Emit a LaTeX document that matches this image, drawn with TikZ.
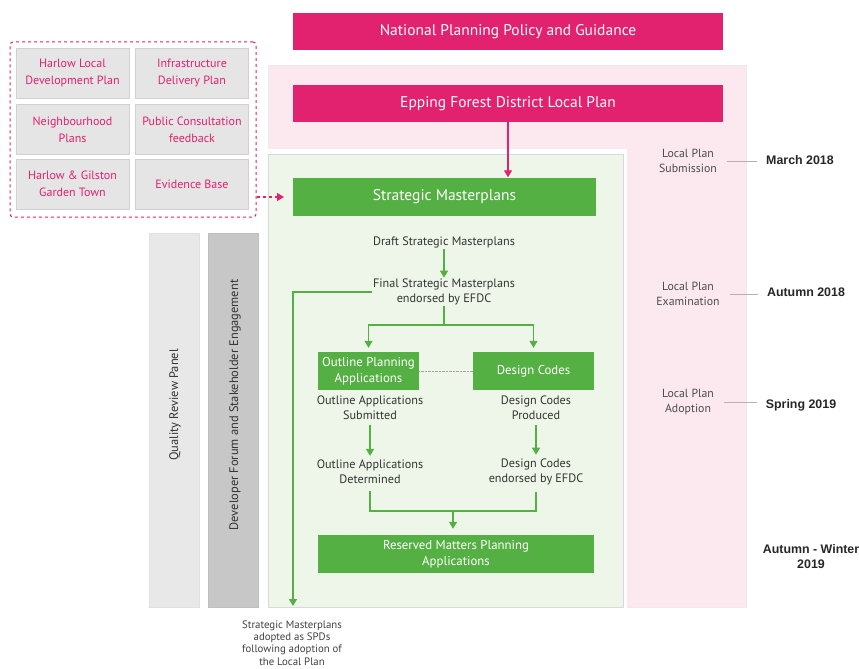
\documentclass[tikz,border=0pt]{standalone}
\usepackage{fontspec}
\setmainfont{PT Sans}
\newfontfamily\datefont{Liberation Sans}
\usetikzlibrary{arrows.meta}

\definecolor{efdcpink}{HTML}{E2216F}
\definecolor{efdcgreen}{HTML}{55B043}
\definecolor{palepink}{HTML}{FCE9F0}
\definecolor{palegreen}{HTML}{EEF6EA}

\begin{document}
\begin{tikzpicture}[x = 1pt, y = -1pt,
                        pinkbar/.style = {fill = efdcpink, text = white, minimum width = 430pt, minimum height = 37pt, inner sep = 0pt,
                                          font = \fontsize{15.5}{18}\selectfont},
                        greenbox/.style = {fill = efdcgreen, text = white, align = center, inner sep = 0pt,
                                           font = \fontsize{12.8}{16}\selectfont},
                        source/.style = {fill = black!10, draw = black!18, text = efdcpink, align = center, inner sep = 0pt,
                                         minimum width = 113pt, minimum height = 50pt, font = \fontsize{12}{17}\selectfont},
                        stage/.style = {align = center, text = black!80, font = \fontsize{12.2}{15}\selectfont, inner sep = 1pt},
                        milestone/.style = {align = center, text = black!70, font = \fontsize{11.8}{14.5}\selectfont, inner sep = 1pt},
                        date/.style = {align = center, text = black!85, font = \datefont\bfseries\fontsize{12.4}{15}\selectfont, inner sep = 1pt},
                        column/.style = {rotate = 90, text = black!80, font = \fontsize{12.4}{14}\selectfont},
                        flow/.style = {draw = efdcgreen, line width = 1.2pt, -{Triangle[width = 8pt, length = 7pt]}},
                        link/.style = {draw = efdcgreen, line width = 1.2pt},
                        tick/.style = {draw = black!30, line width = 0.4pt}]
      \useasboundingbox (0, 0) rectangle (859, 669);

      % backgrounds
      \fill [palepink] (268, 65) rectangle (746, 607);
      \draw [black!8] (268, 65) rectangle (746, 607);
      \fill [white] (267, 149) rectangle (627, 609);
      \draw [black!15, fill = palegreen] (268, 154) rectangle (623, 607);
      \draw [black!12, fill = black!9] (149, 233) rectangle (199, 607);
      \draw [black!25, fill = black!22] (208, 233) rectangle (258, 607);

      % pink bars
      \node [pinkbar] (national) at (508, 31.5){National Planning Policy and Guidance};
      \node [pinkbar] (epping) at (508, 103.5){Epping Forest District Local Plan};

      % evidence sources
      \node [draw = efdcpink, dashed, line width = 1pt, rounded corners = 3pt,
             minimum width = 246pt, minimum height = 175pt] (sources) at (133, 129.5){};
      \node [source] (harlow) at (72.5, 73){Harlow Local\\Development Plan};
      \node [source] (infra) at (192, 73){Infrastructure\\Delivery Plan};
      \node [source] (neigh) at (72.5, 129.5){Neighbourhood\\Plans};
      \node [source] (consult) at (192, 129.5){Public Consultation\\feedback};
      \node [source] (garden) at (72.5, 184){Harlow \& Gilston\\Garden Town};
      \node [source] (evidence) at (192, 184){Evidence Base};
      \coordinate (greenedge) at (284, 197);

      % side columns
      \node [column] (qrp) at (175, 405){Quality Review Panel};
      \node [column] (forum) at (235, 405){Developer Forum and Stakeholder Engagement};

      % masterplan process
      \node [greenbox, minimum width = 303pt, minimum height = 38pt, font = \fontsize{15.5}{18}\selectfont] (strategic) at (444.5, 196.5){Strategic Masterplans};
      \node [stage] (draft) at (444, 242){Draft Strategic Masterplans};
      \node [stage] (final) at (444, 292){Final Strategic Masterplans\\endorsed by EFDC};
      \node [greenbox, minimum width = 101pt, minimum height = 38pt] (outline) at (368.5, 371){Outline Planning\\Applications};
      \node [greenbox, minimum width = 121pt, minimum height = 38pt] (design) at (533.5, 371){Design Codes};
      \node [stage] (submitted) at (370, 408){Outline Applications\\Submitted};
      \node [stage] (determined) at (370, 472){Outline Applications\\Determined};
      \node [stage] (produced) at (536, 408){Design Codes\\Produced};
      \node [stage] (endorsed) at (536, 472){Design Codes\\endorsed by EFDC};
      \node [greenbox, minimum width = 276pt, minimum height = 38pt] (reserved) at (456, 554){Reserved Matters Planning\\Applications};
      \node [stage, text = black!75, font = \fontsize{10.8}{12.3}\selectfont] (adopted) at (292, 643){Strategic Masterplans\\adopted as SPDs\\following adoption of\\the Local Plan};
      \coordinate (split) at (444, 325);
      \coordinate (join) at (453, 511);
      \coordinate (spd) at (293, 606);

      % timeline
      \node [milestone] (submission) at (688, 161){Local Plan\\Submission};
      \node [milestone] (examination) at (688, 294){Local Plan\\Examination};
      \node [milestone] (adoption) at (688, 402){Local Plan\\Adoption};
      \node [date] (march) at (800, 160){March 2018};
      \node [date] (autumn) at (806, 292){Autumn 2018};
      \node [date] (spring) at (801, 405){Spring 2019};
      \node [date] (winter) at (811, 557){Autumn - Winter\\2019};

      \draw [tick, shorten <= 9pt, shorten >= 8pt] (submission.east) -- (submission.east -| march.west);
      \draw [tick, shorten <= 9pt, shorten >= 8pt] (examination.east) -- (examination.east -| autumn.west);
      \draw [tick, shorten <= 9pt, shorten >= 8pt] (adoption.east) -- (adoption.east -| spring.west);

      % connectors
      \draw [efdcpink, line width = 1.2pt, -{Triangle[width = 8pt, length = 7pt]}] (epping) -- (strategic.north -| epping);
      \draw [efdcpink, line width = 1.2pt, dashed, -{Triangle[width = 8pt, length = 7pt]}] (sources.east |- greenedge) -- (greenedge);
      \draw [flow] (draft) -- (final);
      \draw [flow] (final.west) -| (spd);
      \draw [link] (final.south) -- (split);
      \draw [flow, shorten >= 4pt] (split) -| (outline.north);
      \draw [flow, shorten >= 4pt] (split) -| (design.north);
      \draw [black!35, densely dotted] (outline.east) -- (design.west);
      \draw [flow, shorten <= 4pt, shorten >= 3pt] (submitted) -- (determined);
      \draw [flow, shorten <= 4pt, shorten >= 3pt] (produced) -- (endorsed);
      \draw [link] ([yshift = -6pt]determined.south) |- (join) -| ([yshift = -6pt]endorsed.south);
      \draw [flow, shorten >= 6pt] (join) -- (join |- reserved.north);
      \end{tikzpicture}
\end{document}
